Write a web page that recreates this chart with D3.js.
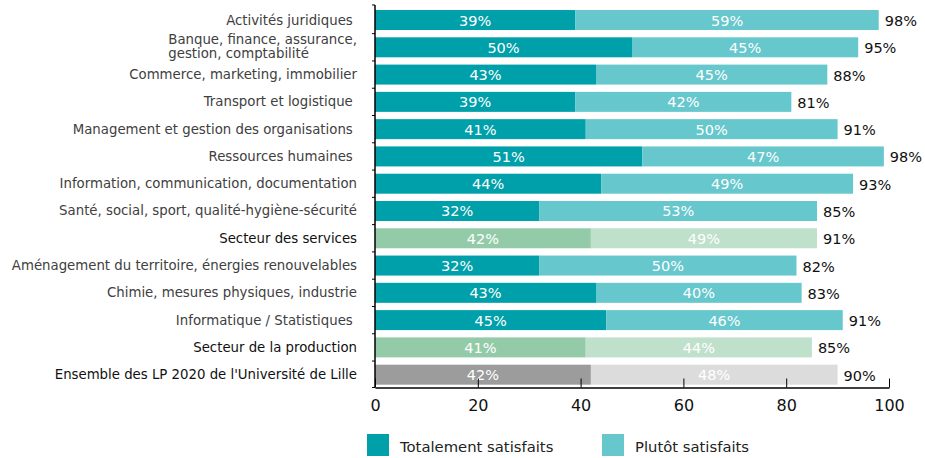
<!DOCTYPE html>
<html>
<head>
<meta charset="utf-8">
<script src="https://cdn.jsdelivr.net/npm/d3@7"></script>
<style>
  body { margin: 0; background: #fff; }
  svg text { font-family: "DejaVu Sans", Verdana, sans-serif; }
</style>
</head>
<body>
<div id="chart"></div>
<script>
// categories, top to bottom ("|" marks a line break)
var categories = [
  "Activités juridiques ",
  "Banque, finance, assurance,|gestion, comptabilité",
  "Commerce, marketing, immobilier",
  "Transport et logistique ",
  "Management et gestion des organisations ",
  "Ressources humaines ",
  "Information, communication, documentation",
  "Santé, social, sport, qualité-hygiène-sécurité",
  "Secteur des services",
  "Aménagement du territoire, énergies renouvelables",
  "Chimie, mesures physiques, industrie",
  "Informatique / Statistiques ",
  "Secteur de la production",
  "Ensemble des LP 2020 de l'Université de Lille"
];
// row kind: detail, sector or overall
var kinds = ["d", "d", "d", "d", "d", "d", "d", "d", "s", "d", "d", "d", "s", "e"];
// bar lengths as drawn
var totalement = [39, 50, 43, 39, 41, 52, 44, 32, 42, 32, 43, 45, 41, 42];
var plutot = [59, 44, 45, 42, 49, 47, 49, 54, 44, 50, 40, 46, 44, 48];
// printed labels
var totalementLabels = [39, 50, 43, 39, 41, 51, 44, 32, 42, 32, 43, 45, 41, 42];
var plutotLabels = [59, 45, 45, 42, 50, 47, 49, 53, 49, 50, 40, 46, 44, 48];
var totals = [98, 95, 88, 81, 91, 98, 93, 85, 91, 82, 83, 91, 85, 90];
var xTicks = [0, 20, 40, 60, 80, 100];
var seriesNames = ["Totalement satisfaits", "Plutôt satisfaits"];

var colors = {
  d: ["#00A0AA", "#66C7CD"],
  s: ["#93CBA9", "#BFE1CC"],
  e: ["#9C9C9C", "#DCDCDC"]
};

var width = 925, height = 458;
var axisY = 387.5;

var svg = d3.select("#chart").append("svg")
  .attr("width", width)
  .attr("height", height);

var x = d3.scaleLinear().domain([0, 100]).range([375, 889]);
var y = d3.scaleBand()
  .domain(d3.range(categories.length))
  .range([7.3, 387.4])
  .paddingInner(0.267)
  .paddingOuter(0.1);

var rows = d3.range(categories.length).map(function (i) {
  return {
    i: i, kind: kinds[i], a: totalement[i], b: plutot[i],
    la: totalementLabels[i], lb: plutotLabels[i], t: totals[i]
  };
});

// bars
var g = svg.append("g");
rows.forEach(function (r) {
  var y0 = y(r.i), bh = y.bandwidth();
  g.append("rect")
    .attr("x", x(0)).attr("y", y0)
    .attr("width", x(r.a) - x(0)).attr("height", bh)
    .attr("fill", colors[r.kind][0]);
  g.append("rect")
    .attr("x", x(r.a)).attr("y", y0)
    .attr("width", x(r.a + r.b) - x(r.a)).attr("height", bh)
    .attr("fill", colors[r.kind][1]);
  g.append("text")
    .attr("x", x(r.a / 2)).attr("y", y0 + bh / 2 + 5.5)
    .attr("text-anchor", "middle")
    .style("font-size", "14.5px").style("fill", "#fff")
    .text(r.la + "%");
  g.append("text")
    .attr("x", x(r.a + r.b / 2)).attr("y", y0 + bh / 2 + 5.5)
    .attr("text-anchor", "middle")
    .style("font-size", "14.5px").style("fill", "#fff")
    .text(r.lb + "%");
  g.append("text")
    .attr("x", x(r.a + r.b) + 6).attr("y", y0 + bh / 2 + 6)
    .style("font-size", "14.5px").style("fill", "#111")
    .text(r.t + "%");
});

// category labels
var labelX = 357;
rows.forEach(function (r) {
  var cy = y(r.i) + y.bandwidth() / 2;
  var parts = categories[r.i].split("|");
  var fill = r.kind === "d" ? "#404040" : "#111";
  if (parts.length === 1) {
    svg.append("text")
      .attr("x", labelX).attr("y", cy + 4.5)
      .attr("text-anchor", "end")
      .style("font-size", "13.3px").style("fill", fill)
      .style("white-space", "pre")
      .text(parts[0]);
  } else {
    var t1 = svg.append("text")
      .attr("x", labelX).attr("y", cy - 3)
      .attr("text-anchor", "end")
      .style("font-size", "13.3px").style("fill", fill)
      .text(parts[0]);
    var w1 = t1.node().getComputedTextLength();
    svg.append("text")
      .attr("x", labelX - w1).attr("y", cy + 11)
      .style("font-size", "13.3px").style("fill", fill)
      .text(parts[1]);
  }
});

// left axis with small ticks between categories
svg.append("line")
  .attr("x1", x(0)).attr("x2", x(0))
  .attr("y1", 5).attr("y2", axisY)
  .attr("stroke", "#000").attr("stroke-width", 1.5);
d3.range(categories.length + 1).forEach(function (i) {
  var yy = i === 0 ? 5 : (i === categories.length ? axisY : y(i) - y.step() * y.paddingInner() / 2);
  svg.append("line")
    .attr("x1", x(0) - 3).attr("x2", x(0))
    .attr("y1", yy).attr("y2", yy)
    .attr("stroke", "#000").attr("stroke-width", 1);
});

// bottom axis
var xAxis = svg.append("g")
  .attr("transform", "translate(0," + axisY + ")")
  .call(d3.axisBottom(x).tickValues(xTicks).tickSizeInner(-9).tickSizeOuter(0).tickPadding(12));
xAxis.select(".domain").attr("stroke-width", 1.5);
xAxis.selectAll("text").style("font-size", "16px").style("fill", "#111")
  .style("font-family", "'DejaVu Sans', Verdana, sans-serif");

// legend
var legendX = [367, 602];
seriesNames.forEach(function (name, i) {
  svg.append("rect")
    .attr("x", legendX[i]).attr("y", 434)
    .attr("width", 22).attr("height", 22)
    .attr("fill", colors.d[i]);
  svg.append("text")
    .attr("x", legendX[i] + 33).attr("y", 451.5)
    .style("font-size", "14.8px").style("fill", "#222")
    .text(name);
});
</script>
</body>
</html>
